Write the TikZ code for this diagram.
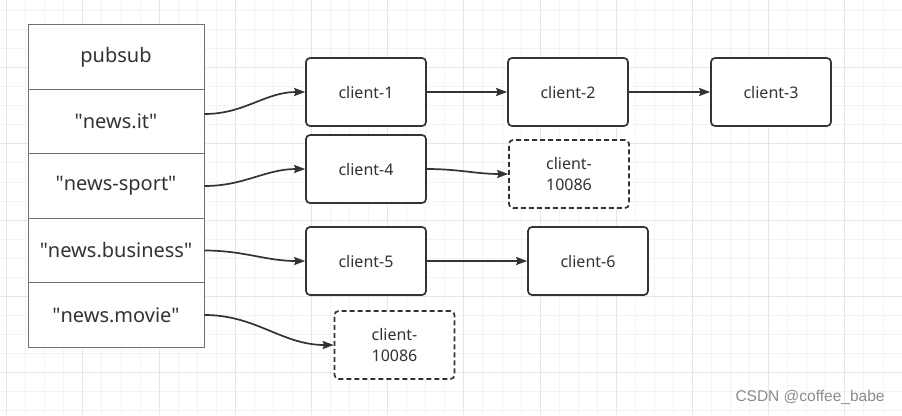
\documentclass[tikz,border=0pt]{standalone}
\usepackage{fontspec}
\setmainfont{Noto Sans}
\newfontfamily\markfont{Liberation Sans}
\usetikzlibrary{arrows.meta, positioning}
\definecolor{ink}{HTML}{333333}
\definecolor{boxline}{HTML}{30353A}
\definecolor{cellline}{HTML}{707070}
\definecolor{gridminor}{HTML}{F3F3F3}
\definecolor{gridmajor}{HTML}{E6E6E6}
\newcommand{\qtd}[1]{\textquotedbl#1\textquotedbl}
\tikzstyle{cell} = [rectangle, draw=cellline, line width=1pt, fill=white, minimum width=176pt, minimum height=64.4pt, inner sep=0pt, text=ink, font=\fontsize{20}{24}\selectfont]
\tikzstyle{client} = [rectangle, rounded corners=4pt, draw=boxline, line width=1.7pt, fill=white, minimum width=120pt, minimum height=68pt, inner sep=0pt, align=center, text=ink, font=\fontsize{16}{21}\selectfont]
\tikzstyle{gone} = [client, dash pattern=on 5pt off 3pt]
\tikzstyle{arrow} = [line width=1.7pt, draw=ink, -{Stealth[length=11pt,width=8pt,inset=1.5pt]}]

\begin{document}
\begin{tikzpicture}[x=1pt, y=-1pt]
  \useasboundingbox (0,0) rectangle (902,415);
  \fill[white] (0,0) rectangle (902,415);
  \foreach \i in {0,...,47} \draw[gridminor, line width=1pt] ({6.7+(\i-1)*19.05},0) -- ++(0,415);
  \foreach \i in {1,...,22} \draw[gridminor, line width=1pt] (0,{-8.2+\i*19.02}) -- ++(902,0);
  \foreach \i in {0,...,11} \draw[gridmajor, line width=1pt] ({6.7+\i*76.2},0) -- ++(0,415);
  \foreach \i in {1,...,5} \draw[gridmajor, line width=1pt] (0,{-8.2+\i*76.08}) -- ++(902,0);

  \node[cell] (pubsub) at (116,57) {pubsub};
  \node[cell] (it) at (116,121.5) {\qtd{news.it}};
  \node[cell] (sport) at (116,186) {\qtd{news-sport}};
  \node[cell] (business) at (116,250.5) {\qtd{news.business}};
  \node[cell] (movie) at (116,315) {\qtd{news.movie}};

  \node[client] (c1) at (366,92) {client-1};
  \node[client] (c2) at (568,92) {client-2};
  \node[client] (c3) at (771,92) {client-3};
  \node[client] (c4) at (366,169) {client-4};
  \node[gone] (d1) at (569,174) {client-\\10086};
  \node[client] (c5) at (366,261) {client-5};
  \node[client] (c6) at (588,261) {client-6};
  \node[gone] (d2) at (394.5,345) {client-\\10086};

  \draw[arrow] ([yshift=7.5pt]it.east) to[out=0, in=180] (c1.west);
  \draw[arrow] (c1) -- (c2);
  \draw[arrow] (c2) -- (c3);
  \draw[arrow] (sport.east) to[out=0, in=180] (c4.west);
  \draw[arrow] (c4.east) to[out=0, in=180] (d1.west);
  \draw[arrow] (business.east) to[out=0, in=180] (c5.west);
  \draw[arrow] (c5) -- (c6);
  \draw[arrow] (movie.east) to[out=0, in=180] (d2.west);

  \node[text=black!45, font=\markfont\fontsize{15.5}{18}\selectfont] (mark) at (810,397) {CSDN @coffee\_babe};
\end{tikzpicture}
\end{document}
